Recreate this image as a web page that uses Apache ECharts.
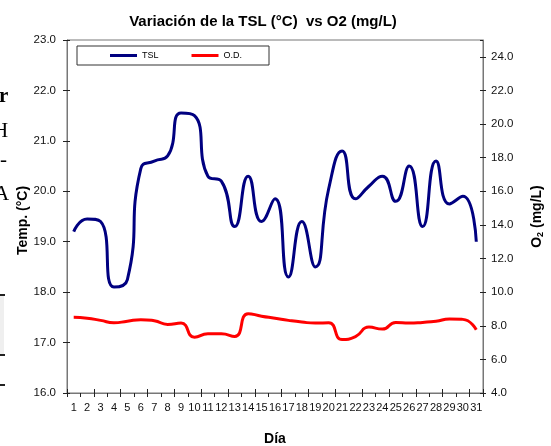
<!DOCTYPE html>
<html>
<head>
<meta charset="utf-8">
<script src="https://cdn.jsdelivr.net/npm/echarts@6/dist/echarts.min.js"></script>
<style>
  html, body { margin: 0; padding: 0; background: #fff; }
  #chart { width: 551px; height: 446px; }
</style>
</head>
<body>
<div id="chart"></div>
<script>
const days = ['1','2','3','4','5','6','7','8','9','10','11','12','13','14','15','16','17','18','19','20','21','22','23','24','25','26','27','28','29','30','31'];
const tsl = [19.2, 19.45, 19.4, 18.1, 18.25, 20.45, 20.6, 20.7, 21.55, 21.5, 20.3, 20.2, 19.3, 20.3, 19.4, 19.85, 18.3, 19.4, 18.5, 20.05, 20.8, 19.85, 20.1, 20.3, 19.8, 20.5, 19.3, 20.6, 19.75, 19.9, 19.0];
const od = [8.5, 8.45, 8.32, 8.18, 8.27, 8.36, 8.3, 8.08, 8.16, 7.32, 7.52, 7.52, 7.36, 8.72, 8.57, 8.45, 8.32, 8.22, 8.16, 8.18, 7.18, 7.36, 7.92, 7.8, 8.2, 8.16, 8.2, 8.27, 8.4, 8.38, 7.76];

const NARROW = '"Liberation Sans Narrow", "Arial Narrow", "Liberation Sans", Arial, sans-serif';
const SANS = '"Liberation Sans", Arial, sans-serif';
const AX = '#777';

const chart = echarts.init(document.getElementById('chart'), null, { renderer: 'canvas' });

const option = {
  animation: false,
  backgroundColor: '#ffffff',
  title: {
    text: 'Variación de la TSL (°C)  vs O2 (mg/L)',
    left: 258, textAlign: 'center', top: 9,
    textStyle: { fontFamily: NARROW, fontSize: 15, fontWeight: 'bold', color: '#000' }
  },
  legend: {
    left: 77, top: 46,
    data: ['TSL', 'O.D.'],
    icon: 'rect',
    itemWidth: 27, itemHeight: 3,
    itemGap: 33,
    padding: [5, 27, 5, 33],
    borderColor: '#333', borderWidth: 1,
    textStyle: { fontFamily: NARROW, fontSize: 9, color: '#000' }
  },
  grid: {
    left: 67, right: 68, top: 40, bottom: 53,
    containLabel: false,
    outerBoundsMode: 'none',
    show: true, borderColor: AX, borderWidth: 1, backgroundColor: 'transparent'
  },
  xAxis: [{
    type: 'category', data: days, boundaryGap: true,
    name: 'Día', nameLocation: 'middle', nameGap: 39,
    nameTextStyle: { fontFamily: NARROW, fontSize: 14, fontWeight: 'bold', color: '#000' },
    axisLine: { lineStyle: { color: AX, width: 1 } },
    axisTick: { show: true, inside: false, length: 4, lineStyle: { color: '#222' } },
    axisLabel: { interval: 0, fontFamily: NARROW, fontSize: 11, color: '#111', margin: 9 },
    splitLine: { show: false }
  }, {
    type: 'category', data: days, boundaryGap: true, position: 'bottom',
    axisLine: { show: false },
    axisTick: { show: true, inside: true, length: 4, lineStyle: { color: '#222' } },
    axisLabel: { show: false }, splitLine: { show: false }
  }],
  yAxis: [{
    type: 'value', position: 'left', min: 16, max: 23, interval: 1,
    name: 'Temp. (°C)', nameLocation: 'middle', nameGap: 37, nameRotate: 90,
    nameMoveOverlap: false,
    nameTextStyle: { fontFamily: SANS, fontSize: 14, fontWeight: 'bold', color: '#000', padding: [0, 0, 0, -8] },
    axisLine: { show: true, lineStyle: { color: AX, width: 1 } },
    axisTick: { show: true, inside: false, length: 4, lineStyle: { color: '#222' } },
    axisLabel: { fontFamily: NARROW, fontSize: 11.5, color: '#111', margin: 11, formatter: v => v.toFixed(1) },
    splitLine: { show: false }
  }, {
    type: 'value', position: 'right', min: 4, max: 25, interval: 2,
    name: '{a|O}{s|2}{a| (mg/L)}', nameLocation: 'middle', nameGap: 46, nameRotate: 90,
    nameTextStyle: {
      rich: {
        a: { fontFamily: SANS, fontSize: 14, fontWeight: 'bold', color: '#000' },
        s: { fontFamily: SANS, fontSize: 9, fontWeight: 'bold', color: '#000', verticalAlign: 'bottom', padding: [7, 0, 0, 0] }
      }
    },
    axisLine: { show: true, lineStyle: { color: AX, width: 1 } },
    axisTick: { show: true, inside: false, length: 3, lineStyle: { color: '#222' } },
    axisLabel: { fontFamily: NARROW, fontSize: 11.5, color: '#111', margin: 8, showMaxLabel: false, formatter: v => v.toFixed(1) },
    splitLine: { show: false }
  }, {
    type: 'value', position: 'left', min: 16, max: 23, interval: 1,
    axisLine: { show: false },
    axisTick: { show: true, inside: true, length: 3, lineStyle: { color: '#222' } },
    axisLabel: { show: false }, splitLine: { show: false }
  }, {
    type: 'value', position: 'right', min: 4, max: 25, interval: 2,
    axisLine: { show: false },
    axisTick: { show: true, inside: true, length: 3, lineStyle: { color: '#222' } },
    axisLabel: { show: false }, splitLine: { show: false }
  }],
  series: [{
    name: 'TSL', type: 'line', data: tsl, xAxisIndex: 0, yAxisIndex: 0,
    smooth: 0.55, showSymbol: false, symbol: 'none',
    color: '#000080',
    lineStyle: { color: '#000080', width: 3 }
  }, {
    name: 'O.D.', type: 'line', data: od, xAxisIndex: 0, yAxisIndex: 1,
    smooth: 0.55, showSymbol: false, symbol: 'none',
    color: '#ff0000',
    lineStyle: { color: '#ff0000', width: 3 }
  }],
  graphic: [
    { type: 'text', left: -1, top: 86, style: { text: 'r', font: 'bold 21px "Liberation Serif", serif', fill: '#000' } },
    { type: 'text', left: -7, top: 121, style: { text: 'H', font: '21px "Liberation Serif", serif', fill: '#000' } },
    { type: 'text', left: 0, top: 150, style: { text: '-', font: '21px "Liberation Serif", serif', fill: '#000' } },
    { type: 'text', left: -6, top: 184, style: { text: 'A', font: '21px "Liberation Serif", serif', fill: '#000' } },
    { type: 'rect', shape: { x: 0, y: 296, width: 4, height: 59 }, style: { fill: '#efefef' } },
    { type: 'rect', shape: { x: 0, y: 294, width: 5, height: 2 }, style: { fill: '#222' } },
    { type: 'rect', shape: { x: 0, y: 354, width: 5, height: 2 }, style: { fill: '#222' } },
    { type: 'rect', shape: { x: 0, y: 384, width: 5, height: 2 }, style: { fill: '#222' } }
  ]
};
chart.setOption(option);
</script>
</body>
</html>
